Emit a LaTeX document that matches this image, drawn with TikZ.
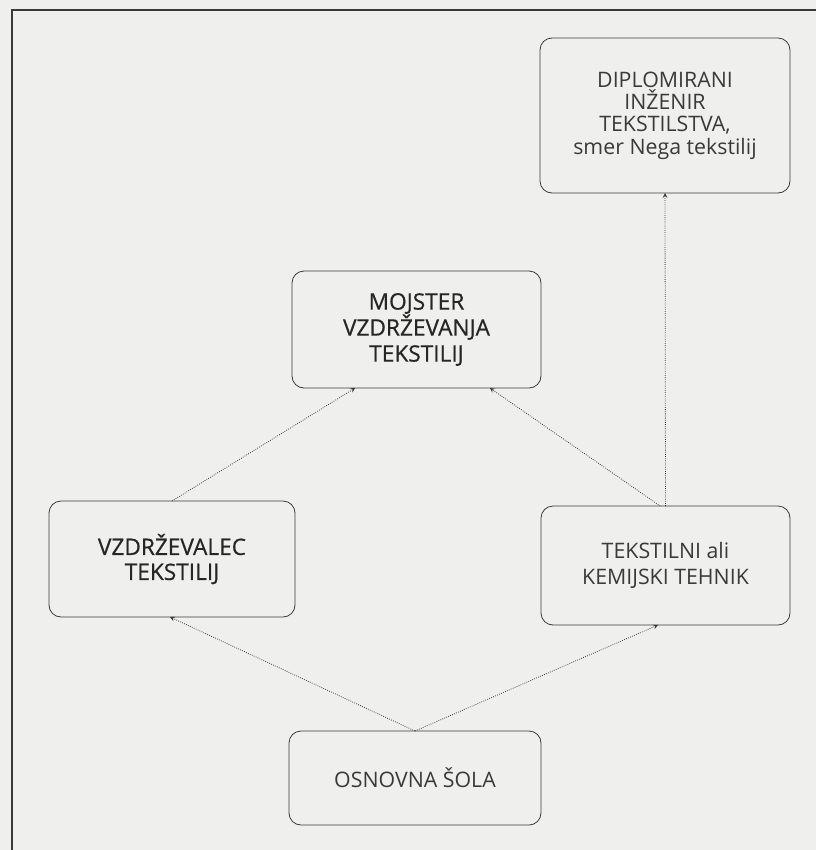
\documentclass[tikz,border=0pt]{standalone}
\usepackage{fontspec}
\setmainfont{Open Sans}
\newfontfamily\strongfont[FakeBold=0.6]{Open Sans}
\usepackage{tikz}
\usetikzlibrary{arrows}

\definecolor{paper}{HTML}{EFEFED}
\definecolor{ink}{HTML}{3A3A3A}
\definecolor{darkink}{HTML}{262626}

\begin{document}
\begin{tikzpicture}[x=0.75pt, y=-0.75pt,
    box/.style = {draw=ink, line width=0.6pt, rounded corners=9pt, align=center,
        text=ink, inner sep=0pt, outer sep=0pt},
    conn/.style = {->, >=stealth, draw=ink, line width=0.6pt, densely dotted}]
            \useasboundingbox (0,0) rectangle (816,850);
            \fill[paper] (0,0) rectangle (816,850);

            % Frame
            \draw[ink, line width=2pt] (816,10) -- (12,10) -- (12,850);

            % Nodes
            \node[box, minimum width=187.5pt, minimum height=116.25pt,
                font=\fontsize{16}{16.7}\selectfont] (diplomirani) at (665,115.5)
                {DIPLOMIRANI\\INŽENIR\\TEKSTILSTVA,\\smer Nega tekstilij};
            \node[box, minimum width=186.75pt, minimum height=87.75pt, text=darkink,
                font=\strongfont\fontsize{17}{19.5}\selectfont] (mojster) at (416.5,329.5)
                {MOJSTER\\VZDRŽEVANJA\\TEKSTILIJ};
            \node[box, minimum width=184.5pt, minimum height=87pt, text=darkink,
                font=\strongfont\fontsize{17}{18.75}\selectfont] (vzdrzevalec) at (172,559)
                {VZDRŽEVALEC\\TEKSTILIJ};
            \node[box, minimum width=186.75pt, minimum height=89.25pt,
                font=\fontsize{16}{20}\selectfont] (tehnik) at (665.5,565.5)
                {TEKSTILNI ali\\KEMIJSKI TEHNIK};
            \node[box, minimum width=189pt, minimum height=70.5pt,
                font=\fontsize{16}{20}\selectfont] (osnovna) at (415,778)
                {OSNOVNA ŠOLA};

            % Lines
            \draw[conn] (osnovna.north) -- ([xshift=-1.5pt]vzdrzevalec.south);
            \draw[conn] (osnovna.north) -- ([xshift=-5.6pt]tehnik.south);
            \draw[conn] (vzdrzevalec.north) -- ([xshift=-46pt]mojster.south);
            \draw[conn] ([xshift=-4pt]tehnik.north) -- ([xshift=55pt]mojster.south);
            \draw[conn] (tehnik.north) -- (diplomirani.south);
\end{tikzpicture}
\end{document}
